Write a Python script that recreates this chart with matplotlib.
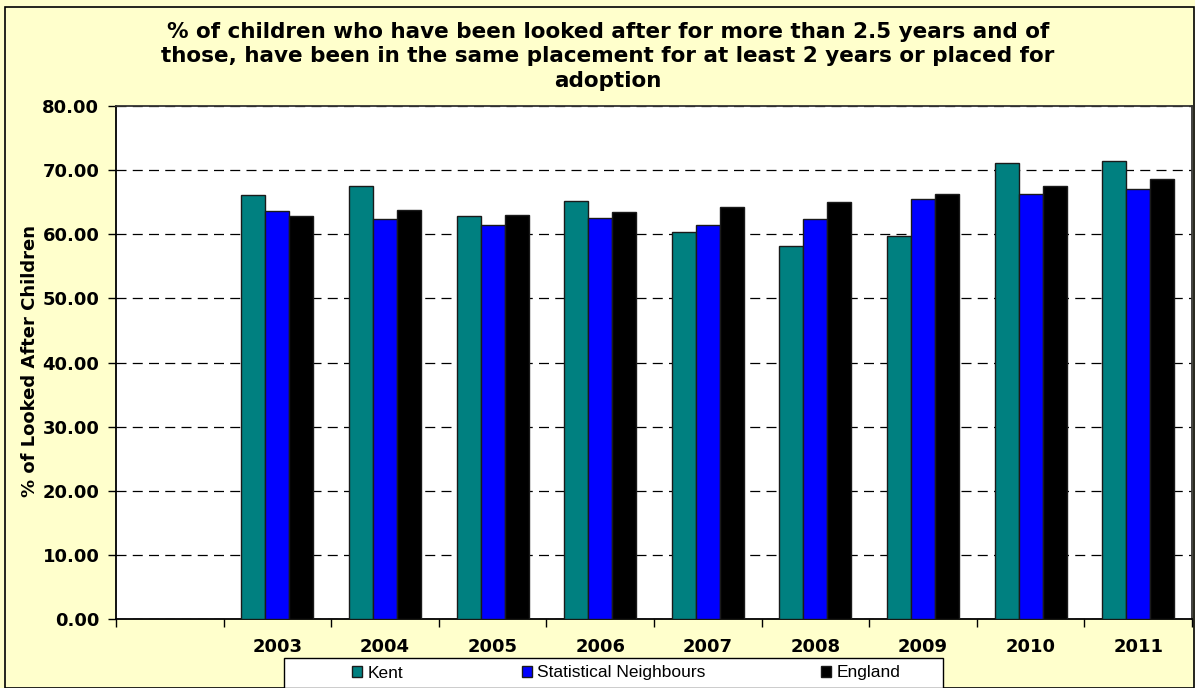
import numpy as np
import matplotlib.pyplot as plt
from matplotlib.patches import Rectangle

# data (first category is blank)
categories = ["", "2003", "2004", "2005", "2006", "2007", "2008", "2009", "2010", "2011"]
kent = [np.nan, 66.1, 67.6, 62.9, 65.2, 60.4, 58.2, 59.7, 71.1, 71.5]
stat_neighbours = [np.nan, 63.6, 62.4, 61.5, 62.5, 61.5, 62.4, 65.5, 66.3, 67.1]
england = [np.nan, 62.8, 63.8, 63.0, 63.5, 64.3, 65.1, 66.3, 67.5, 68.6]
series_names = ["Kent", "Statistical Neighbours", "England"]
series_colors = ["#008080", "#0000FF", "#000000"]
y_ticks = np.arange(0, 81, 10)

title = ("% of children who have been looked after for more than 2.5 years and of\n"
         "those, have been in the same placement for at least 2 years or placed for\n"
         "adoption")

W, H = 1195, 688
fig = plt.figure(figsize=(W / 100, H / 100), dpi=100)
fig.patch.set_facecolor("#FFFFCC")

# outer chart border
fig.patches.append(Rectangle((5 / W, 0), (W - 6) / W, (H - 7) / H, transform=fig.transFigure,
                             fill=False, edgecolor="black", lw=1.2, zorder=0))

ax = fig.add_axes([116 / W, 1 - 619 / H, (1192 - 116) / W, (619 - 106) / H])
ax.set_facecolor("white")

n_cat = len(categories)
x = np.arange(n_cat) + 0.5
bw = 0.223
bars = []
for k, (vals, col) in enumerate(zip([kent, stat_neighbours, england], series_colors)):
    b = ax.bar(x + (k - 1) * bw, vals, width=bw, color=col, edgecolor="#1a1a1a",
               linewidth=1.0, zorder=3)
    bars.append(b)

ax.set_xlim(0, n_cat)
ax.set_ylim(0, 80)
ax.set_yticks(y_ticks)
ax.set_yticklabels([f"{v:.2f}" for v in y_ticks], fontsize=13, fontweight="bold")
ax.yaxis.grid(True, linestyle=(0, (8, 5)), color="black", lw=0.9, zorder=1)
ax.tick_params(axis="y", direction="out", length=6, width=1, pad=6)

# ticks between categories, labels at category centres
ax.set_xticks(np.arange(n_cat + 1))
ax.set_xticklabels([])
ax.set_xticks(x, minor=True)
ax.set_xticklabels(categories, minor=True, fontsize=13, fontweight="bold")
ax.tick_params(axis="x", which="major", direction="out", length=6, width=1)
ax.tick_params(axis="x", which="minor", length=0, pad=14)

for s in ["left", "bottom"]:
    ax.spines[s].set_color("black")
    ax.spines[s].set_linewidth(1.3)
for s in ["top", "right"]:
    ax.spines[s].set_color("#333333")
    ax.spines[s].set_linewidth(1.3)

fig.text(608 / W, 1 - 22 / H, title, ha="center", va="top", fontsize=15.5,
         fontweight="bold", linespacing=1.28)
fig.text(30 / W, 1 - 361 / H, "% of Looked After Children", rotation=90, ha="center",
         va="center", fontsize=13, fontweight="bold")

# legend box with three spread-out entries
fig.patches.append(Rectangle((284 / W, 0), (943 - 284) / W, (H - 658) / H,
                             transform=fig.transFigure, facecolor="white",
                             edgecolor="black", lw=1, zorder=1))
legend_x = [343, 513, 812]
for b, name, lx in zip(bars, series_names, legend_x):
    lg = fig.legend([b], [name], loc="center left", bbox_to_anchor=(lx / W, 1 - 673 / H),
                    frameon=False, borderpad=0, handlelength=0.6, handleheight=0.6,
                    handletextpad=0.3, prop={"family": "Liberation Sans", "size": 12.5})
    lg.set_zorder(2)

fig.savefig("out.png", dpi=100, facecolor=fig.get_facecolor())
